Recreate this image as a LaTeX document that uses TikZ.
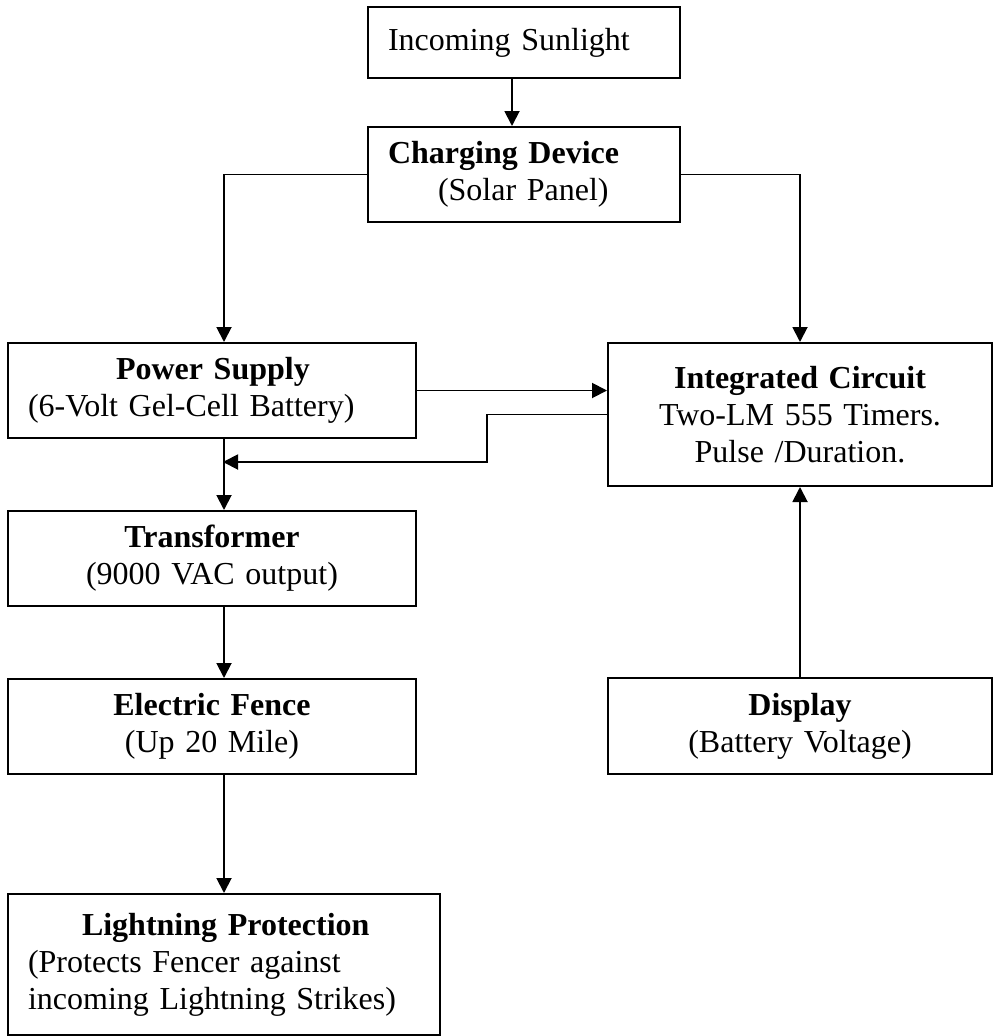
\documentclass[tikz,border=0pt]{standalone}
\usepackage{fontspec}
\setmainfont{Liberation Serif}
\usetikzlibrary{arrows.meta,positioning}
\tikzset{
    block/.style={
        draw,
        line width=2pt,
        rectangle,
        anchor=north west,
        inner xsep=20pt,
        inner ysep=0pt,
        font=\fontsize{32}{37}\selectfont
    },
    conn/.style={
        line width=1.9pt,
        -{Triangle[length=15pt,width=15pt]}
    }
}

\begin{document}
\begin{tikzpicture}[x=1pt,y=-1pt]
  \useasboundingbox (0,0) rectangle (1008,1036);

  \node[block, minimum width=312pt, minimum height=71pt, text width=272pt, align=left] (sun) at (367,6)
    {Incoming Sunlight};
  \node[block, minimum width=312pt, minimum height=95pt, text width=272pt, align=left] (chg) at (367,126)
    {\textbf{Charging Device}\\\hspace*{50pt}(Solar Panel)};
  \node[block, minimum width=408pt, minimum height=95pt, text width=368pt, align=left] (pwr) at (7,342)
    {\hspace*{88pt}\textbf{Power Supply}\\(6-Volt Gel-Cell Battery)};
  \node[block, minimum width=384pt, minimum height=143pt, text width=344pt, align=center] (ic) at (607,342)
    {\textbf{Integrated Circuit}\\Two-LM 555 Timers.\\Pulse /Duration.\\[10pt]};
  \node[block, minimum width=408pt, minimum height=95pt, text width=368pt, align=center] (trf) at (7,510)
    {\textbf{Transformer}\\(9000 VAC output)};
  \node[block, minimum width=408pt, minimum height=95pt, text width=368pt, align=center] (fence) at (7,678)
    {\textbf{Electric Fence}\\(Up 20 Mile)};
  \node[block, minimum width=384pt, minimum height=96pt, text width=344pt, align=center] (disp) at (607,677)
    {\textbf{Display}\\(Battery Voltage)};
  \node[block, minimum width=432pt, minimum height=141pt, text width=392pt, align=left] (ltn) at (7,893)
    {\hspace*{54pt}\textbf{Lightning Protection}\\(Protects Fencer against\\incoming Lightning Strikes)\\[6pt]};

  \coordinate (bend) at (487,462);
  \coordinate (join) at (223,462);

  \draw[conn] ([xshift=-12pt]sun.south) -- ([xshift=-12pt]chg.north);
  \draw[conn] (chg.west) -| ([xshift=12pt]pwr.north);
  \draw[conn] (chg.east) -| (ic.north);
  \draw[conn] (pwr.east) -- (pwr.east -| ic.west);
  \draw[conn] (ic.west) -| (bend) -- (join);
  \draw[conn] ([xshift=12pt]pwr.south) -- ([xshift=12pt]trf.north);
  \draw[conn] ([xshift=12pt]trf.south) -- ([xshift=12pt]fence.north);
  \draw[conn] ([xshift=12pt]fence.south) -- (ltn.north);
  \draw[conn] (disp.north) -- (ic.south);

\end{tikzpicture}
\end{document}
